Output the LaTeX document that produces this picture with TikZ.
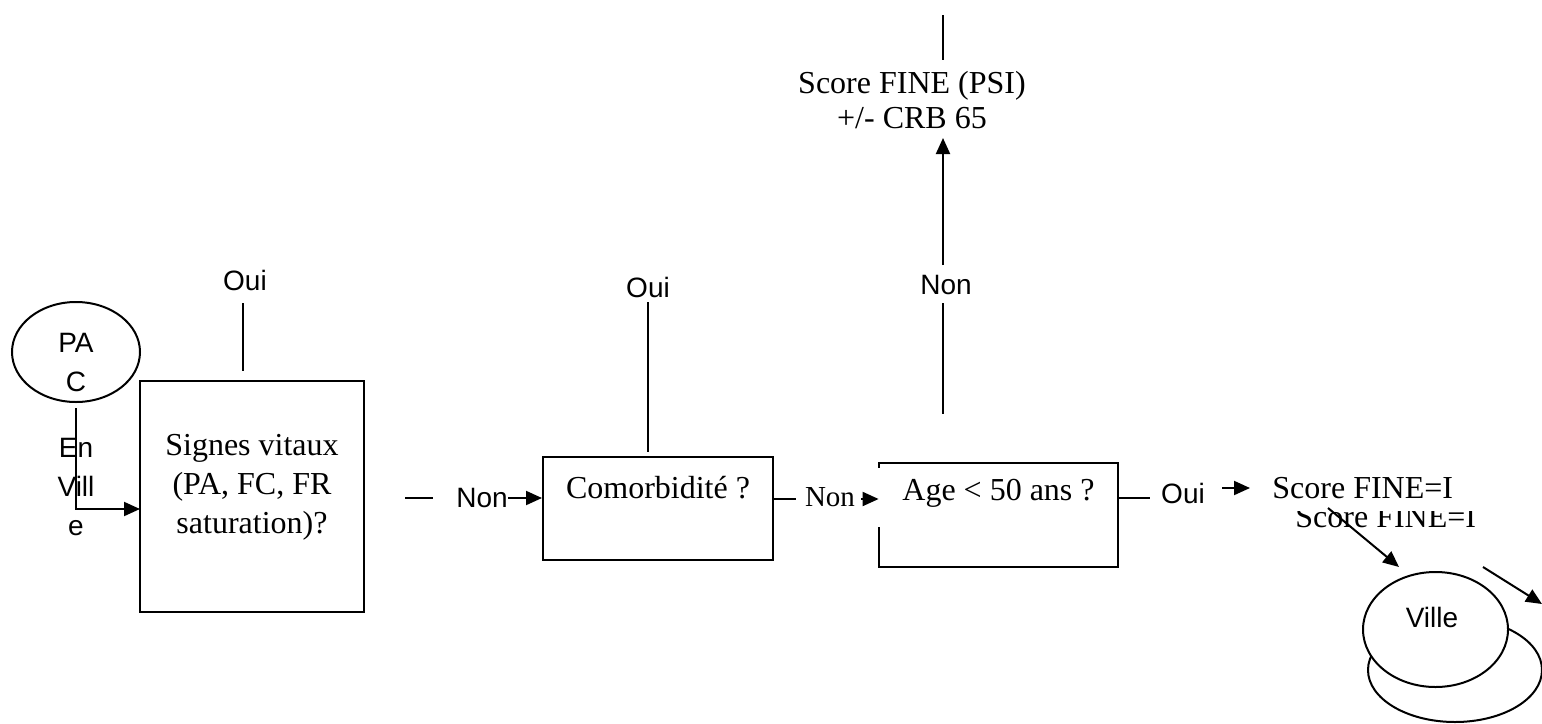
\documentclass[tikz,border=0pt]{standalone}
\usepackage{fontspec}
\setmainfont{Liberation Serif}
\setsansfont{Liberation Sans}
\usetikzlibrary{arrows.meta,shapes.geometric}
\tikzset{
  ln/.style={line width=1pt},
  arr/.style={ln,-{Triangle[length=8pt,width=7pt]}},
  boxnode/.style={draw,ln,rectangle,inner sep=0pt},
  oval/.style={draw,ln,ellipse,inner sep=0pt},
  sertxt/.style={font=\fontsize{16}{19.5}\selectfont,inner sep=0pt,align=center},
  smallser/.style={font=\fontsize{14.5}{17}\selectfont,inner sep=0pt},
  santxt/.style={font=\sffamily\fontsize{14}{19.5}\selectfont,inner sep=0pt,align=center},
}
\begin{document}
\begin{tikzpicture}[x=0.5pt,y=-0.5pt]
\useasboundingbox (0,0) rectangle (1542,723);

% top
\coordinate (toptop) at (943,15);
\coordinate (topbot) at (943,60);
\draw[ln] (toptop) -- (topbot);
\node[sertxt,font=\fontsize{16}{17.5}\selectfont] (psi) at (912,100) {Score FINE (PSI)\\+/- CRB 65};

% PAC
\node[oval,minimum width=64pt,minimum height=50pt] (pac) at (76,352) {};
\node[santxt] (pactxt) at (76,362) {PA\\C};
\node[santxt] (enville) at (76,487) {En\\Vill\\e};
\coordinate (sigin) at (140,509);

% Signes vitaux
\node[boxnode,minimum width=112pt,minimum height=115.5pt] (signes) at (252,496.5) {};
\node[sertxt] (signestxt) at (252,487) {Signes vitaux\\(PA, FC, FR\\saturation)?};
\draw[arr] ([yshift=-2.5pt]pac.south) |- (sigin);

\node[santxt] (oui1) at (245,280) {Oui};
\coordinate (oui1a) at (243,303);
\coordinate (oui1b) at (243,371);
\draw[ln] (oui1a) -- (oui1b);

% Non -> Comorbidite
\coordinate (d1a) at (405,498);
\coordinate (d1b) at (433,498);
\draw[ln] (d1a) -- (d1b);
\node[santxt] (non1) at (482,498) {Non};

\node[boxnode,minimum width=115pt,minimum height=51.5pt] (como) at (658,508.5) {};
\node[sertxt] (comotxt) at (658,488) {Comorbidité ?};
\draw[arr] (non1.east |- 0,498) -- (como.west |- 0,498);

\node[santxt] (oui2) at (648,287) {Oui};
\coordinate (oui2a) at (648,302);
\coordinate (oui2b) at (648,452);
\draw[ln] (oui2a) -- (oui2b);

% Non -> Age
\coordinate (d2b) at (796,499);
\draw[ln] (como.east |- 0,499) -- (d2b);
\node[smallser] (non2) at (830,497) {Non};

\node[minimum width=119.5pt,minimum height=52pt,inner sep=0pt] (age) at (998.5,515) {};
\draw[ln] ([yshift=-2.5pt]age.north west) -- (age.north west) -- (age.north east)
  -- (age.south east) -- (age.south west) -- ([yshift=20pt]age.south west);
\node[sertxt] (agetxt) at (998.5,493) {Age < 50 ans ?};
\draw[arr] ([xshift=3pt]non2.east |- 0,499) -- (age.west |- 0,499);

% Non up -> PSI
\node[santxt] (non3) at (946,285) {Non};
\coordinate (n3a) at (943,303);
\coordinate (n3b) at (943,414);
\draw[ln] (n3a) -- (n3b);
\coordinate (n3top) at (943,265);
\coordinate (psiin) at (943,138);
\draw[arr] (n3top) -- (psiin);

% Oui -> Score FINE=I
\coordinate (d3b) at (1150,498);
\draw[ln] (age.east |- 0,498) -- (d3b);
\node[santxt] (oui3) at (1183,493) {Oui};
\coordinate (o3a) at (1222,488);
\node[sertxt,anchor=west] (sf1) at (1272,488) {Score FINE=I};
\draw[arr] (o3a) -- ([xshift=-11pt]sf1.west);

\begin{scope}
\clip (1280,511) rectangle (1490,545);
\node[sertxt,anchor=base west] (sf2) at (1295,527) {Score FINE=I};
\end{scope}

% Ville
\node[oval,minimum width=87pt,minimum height=52pt] (back) at (1455,670) {};
\node[oval,fill=white,minimum width=72.5pt,minimum height=57.5pt] (ville) at (1435.5,629.5) {};
\node[santxt] (villetxt) at (1432,617) {Ville};

\coordinate (da) at (1328,508);
\coordinate (db) at (1399,567);
\draw[arr] (da) -- (db);
\coordinate (ea) at (1483,567);
\coordinate (eb) at (1542,604);
\draw[arr] (ea) -- (eb);
\end{tikzpicture}
\end{document}
